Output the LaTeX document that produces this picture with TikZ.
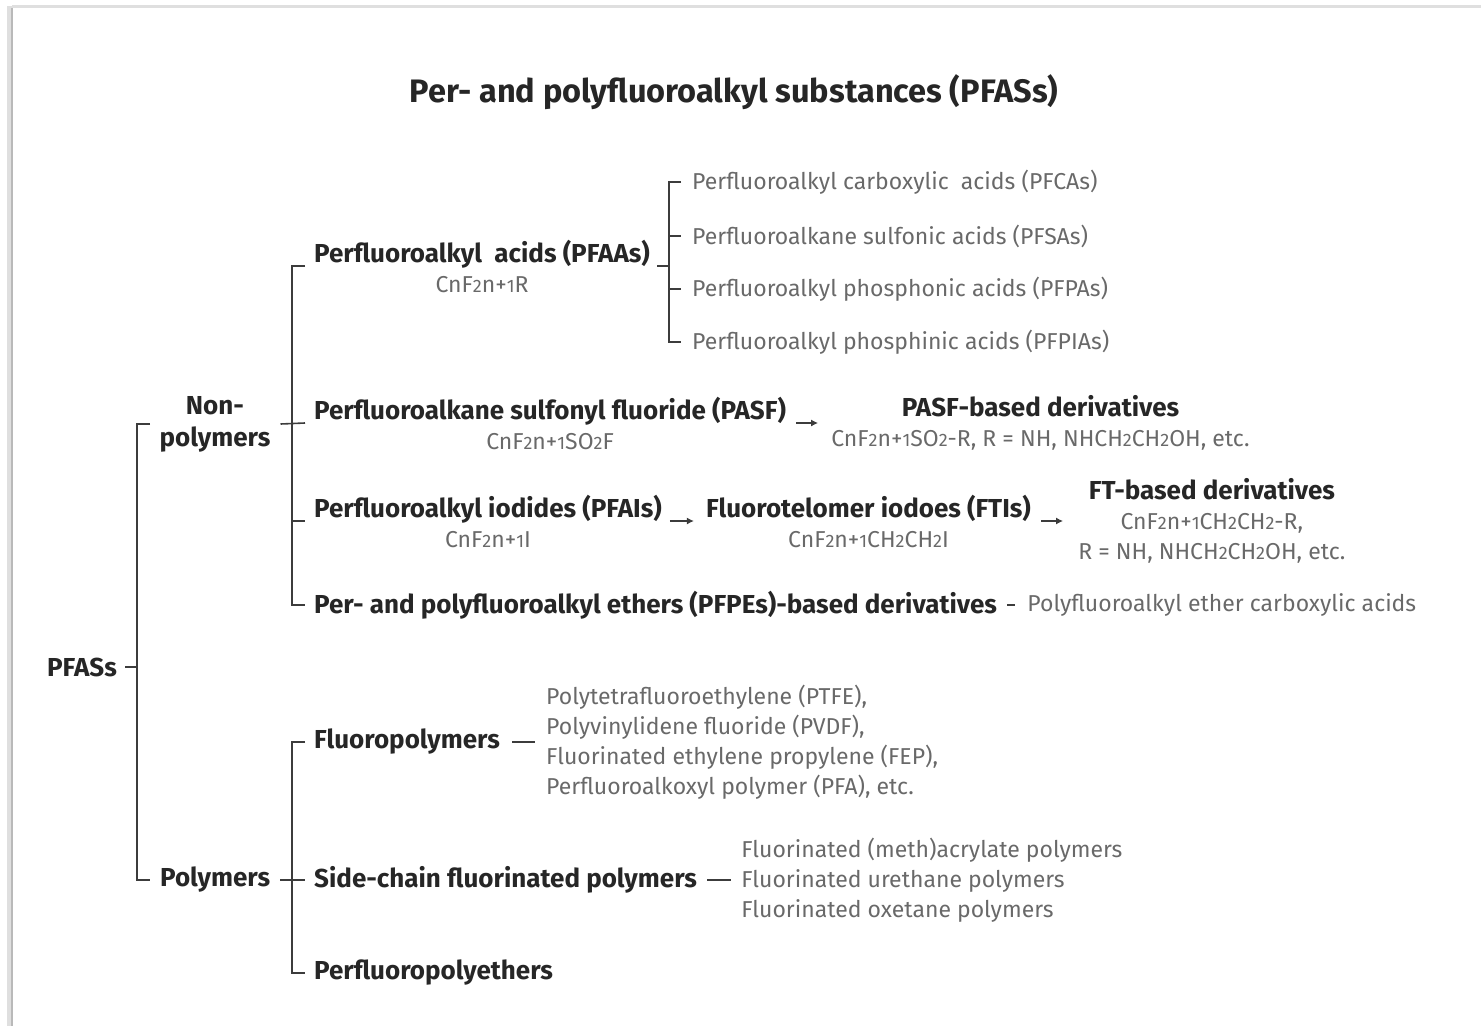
\documentclass[tikz,border=0pt]{standalone}
\usepackage{fontspec}
\setmainfont{Fira Sans}
\usepackage{xcolor}
\usetikzlibrary{positioning,arrows.meta}
\definecolor{inkdark}{RGB}{38,38,38}
\definecolor{inkgray}{RGB}{105,105,105}
\definecolor{linegray}{RGB}{60,60,60}
\definecolor{framegray}{RGB}{185,185,185}
\newcommand{\subtxt}{\mdseries\fontsize{23}{29}\selectfont\color{inkgray}}
\newcommand{\dg}[1]{{\fontsize{18}{20}\selectfont #1}}

\begin{document}
\begin{tikzpicture}[x=1pt, y=-1pt,
        title/.style={font=\bfseries\fontsize{32.5}{38}\selectfont, text=inkdark, inner sep=0pt},
        group/.style={font=\bfseries\fontsize{26}{32}\selectfont, text=inkdark, inner sep=0pt, align=center},
        item/.style={font=\fontsize{23}{30}\selectfont, text=inkgray, inner sep=0pt, align=left},
        branch/.style={draw=linegray, line width=1.6pt},
        arrow/.style={-{Latex[length=7pt,width=7pt]}, line width=2pt, draw=linegray}
    ]
        \useasboundingbox (0,0) rectangle (1481,1026);

        % Rahmen
        \draw[framegray!45, line width=5pt] (9,6) -- (9,1026);
        \draw[framegray, line width=2pt] (12,8) -- (12,1026);
        \draw[framegray!45, line width=3pt] (12,6) -- (1481,6);

        % Titel
        \node[title] (title) at (734,92) {Per- and polyfluoroalkyl substances (PFASs)};

        % Wurzel und erste Ebene
        \node[group, anchor=east] (pfas) at (117,667) {PFASs};
        \node[group] (nonpoly) at (215,424) {Non-\\polymers};
        \node[group, anchor=west] (poly) at (160,880) {Polymers};

        % Nicht-Polymere
        \node[group, anchor=west] (pfaa) at (314,266) {Perfluoroalkyl\ \ acids (PFAAs)\\[-2pt]{\subtxt CnF\dg{2}n+\dg{1}R}};
        \node[group, anchor=west] (pasf) at (314,423) {Perfluoroalkane sulfonyl fluoride (PASF)\\[-2pt]{\subtxt CnF\dg{2}n+\dg{1}SO\dg{2}F}};
        \node[group, anchor=west] (pfai) at (314,521) {Perfluoroalkyl iodides (PFAIs)\\[-2pt]{\subtxt CnF\dg{2}n+\dg{1}I}};
        \node[group, anchor=west] (pfpe) at (314,605) {Per- and polyfluoroalkyl ethers (PFPEs)-based derivatives};

        % Saeuren
        \node[item, anchor=west] (pfca) at (692,182) {Perfluoroalkyl carboxylic\ \ acids (PFCAs)};
        \node[item, anchor=west] (pfsa) at (692,236) {Perfluoroalkane sulfonic acids (PFSAs)};
        \node[item, anchor=west] (pfpa) at (692,289) {Perfluoroalkyl phosphonic acids (PFPAs)};
        \node[item, anchor=west] (pfpia) at (692,342) {Perfluoroalkyl phosphinic acids (PFPIAs)};

        % Derivate
        \node[group, right=45pt of pasf] (pasfder) {PASF-based derivatives\\[-2pt]{\subtxt CnF\dg{2}n+\dg{1}SO\dg{2}-R, R = NH, NHCH\dg{2}CH\dg{2}OH, etc.}};
        \node[group, right=44pt of pfai] (fti) {Fluorotelomer iodoes (FTIs)\\[-2pt]{\subtxt CnF\dg{2}n+\dg{1}CH\dg{2}CH\dg{2}I}};
        \node[group, right=47pt of fti] (ftder) {FT-based derivatives\\[-2pt]{\subtxt CnF\dg{2}n+\dg{1}CH\dg{2}CH\dg{2}-R,}\\[-2pt]{\subtxt R = NH, NHCH\dg{2}CH\dg{2}OH, etc.}};
        \node[item, right=30pt of pfpe] (pfeca) {Polyfluoroalkyl ether carboxylic acids};

        % Polymere
        \node[group, anchor=west] (fluoro) at (314,742) {Fluoropolymers};
        \node[item, right=46pt of fluoro] (fluorolist) {Polytetrafluoroethylene (PTFE),\\Polyvinylidene fluoride (PVDF),\\Fluorinated ethylene propylene (FEP),\\Perfluoroalkoxyl polymer (PFA), etc.};
        \node[group, anchor=west] (sidechain) at (314,880) {Side-chain fluorinated polymers};
        \node[item, right=44pt of sidechain] (sidelist) {Fluorinated (meth)acrylate polymers\\Fluorinated urethane polymers\\Fluorinated oxetane polymers};
        \node[group, anchor=west] (pfpeth) at (314,973) {Perfluoropolyethers};

        % Klammern
        \draw[branch] ([xshift=8pt]pfas.east) -- ++(12,0);
        \draw[branch] ([xshift=-10pt]poly.west |- nonpoly) -- ++(-13,0) |- ([xshift=-10pt]poly.west);

        \draw[branch] ([xshift=10pt]nonpoly.east) -- ([xshift=-9pt]pasf.west);
        \draw[branch] ([xshift=-9pt]pfaa.west) -- ++(-13,0) |- ([xshift=-9pt]pfpe.west);
        \draw[branch] ([xshift=-22pt]pfai.west) -- ([xshift=-9pt]pfai.west);

        \draw[branch] ([xshift=7pt]pfaa.east) -- ++(12,0);
        \draw[branch] ([xshift=-11pt]pfca.west) -- ++(-12,0) |- ([xshift=-11pt]pfpia.west);
        \draw[branch] ([xshift=-23pt]pfsa.west) -- ([xshift=-11pt]pfsa.west);
        \draw[branch] ([xshift=-23pt]pfpa.west) -- ([xshift=-11pt]pfpa.west);

        \draw[branch] ([xshift=10pt]poly.east) -- ([xshift=-9pt]sidechain.west);
        \draw[branch] ([xshift=-9pt]fluoro.west) -- ++(-13,0) |- ([xshift=-9pt]pfpeth.west);

        % Pfeile und Striche
        \draw[arrow, shorten <=10pt, shorten >=13pt] (pasf.east) -- (pasfder.west);
        \draw[arrow, shorten <=8pt, shorten >=12pt] (pfai.east) -- (fti.west);
        \draw[arrow, shorten <=10pt, shorten >=15pt] (fti.east) -- (ftder.west);
        \draw[branch, shorten <=10pt, shorten >=12pt] (pfpe.east) -- (pfeca.west);
        \draw[branch, shorten <=12pt, shorten >=11pt] (fluoro.east) -- (fluorolist.west);
        \draw[branch, shorten <=10pt, shorten >=10pt] (sidechain.east) -- (sidelist.west);
    \end{tikzpicture}
\end{document}
